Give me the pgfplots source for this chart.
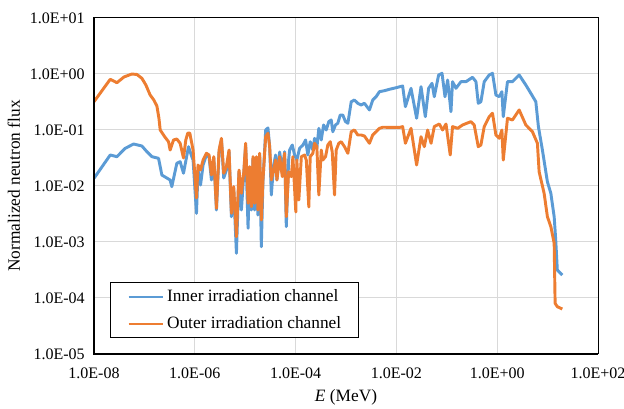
\documentclass[border=0pt]{standalone}
\usepackage{pgfplots}
\pgfplotsset{compat=1.18}
\usepackage{fontspec}
\setmainfont{Liberation Serif}
\definecolor{cblue}{HTML}{5B9BD5}
\definecolor{corange}{HTML}{ED7D31}
\definecolor{cgrid}{HTML}{D9D9D9}
\begin{document}
\begin{tikzpicture}
\begin{axis}[
 name=ax,
 scale only axis, width=378pt, height=252pt,
 xmode=log, ymode=log,
 xmin=1e-8, xmax=100, ymin=1e-5, ymax=10,
 xtick={1e-8,1e-6,1e-4,1e-2,1,100},
 xticklabels={1.0E-08,1.0E-06,1.0E-04,1.0E-02,1.0E+00,1.0E+02},
 ytick={1e-5,1e-4,1e-3,1e-2,1e-1,1,10},
 yticklabels={1.0E-05,1.0E-04,1.0E-03,1.0E-02,1.0E-01,1.0E+00,1.0E+01},
 xminorticks=false, yminorticks=false,
 major tick length=0pt,
 grid=major, major grid style={cgrid, line width=0.75pt},
 axis line style={black, line width=0.75pt},
 tick label style={font=\fontsize{12}{14}\selectfont},
 xticklabel style={anchor=center, inner sep=0pt, yshift=-14.25pt},
 yticklabel style={anchor=east, inner sep=0pt, xshift=-6.75pt},
 every axis x label/.style={at={(axis description cs:0.5,-0.128)}, anchor=center, font=\fontsize{13}{15}\selectfont},
 every axis y label/.style={at={(axis description cs:-0.159,0.5)}, rotate=90, anchor=center, font=\fontsize{13}{15}\selectfont},
 xlabel={\textit{E} (MeV)},
 ylabel={Normalized neutron flux},
 legend style={at={(axis description cs:0.0317,0.0467)}, anchor=south west, draw=black, line width=0.75pt,
   font=\fontsize{13}{15}\selectfont, inner xsep=13pt, inner ysep=4.9pt, row sep=9.5pt, column sep=2.5pt,
   nodes={inner sep=0pt, text height=9pt, text depth=2pt}},
 legend cell align=left,
 legend image code/.code={\draw[#1, line width=1.4pt] (0pt,0pt) -- (25.5pt,0pt);},
 every axis plot/.append style={line width=2.2pt, line join=round, no markers},
]
\addplot[cblue] coordinates {
(1.00e-8,0.0137) (2.10e-8,0.0358) (2.85e-8,0.0334) (4.17e-8,0.0471) (6.11e-8,0.0562)
(8.92e-8,0.0518) (1.12e-7,0.0410) (1.41e-7,0.0334) (1.91e-7,0.0312) (2.22e-7,0.0157)
(3.24e-7,0.0128) (3.50e-7,0.00972) (4.40e-7,0.0254) (5.12e-7,0.0272) (5.97e-7,0.0169)
(7.50e-7,0.0503) (8.72e-7,0.0334) (9.25e-7,0.0291) (1.08e-6,0.00325) (1.16e-6,0.0193)
(1.30e-6,0.0104) (1.46e-6,0.0237) (1.70e-6,0.0358) (1.92e-6,0.0330) (2.14e-6,0.0128)
(2.38e-6,0.0316) (2.69e-6,0.00373) (3.03e-6,0.0405) (3.38e-6,0.0663) (3.75e-6,0.0139)
(4.24e-6,0.0193) (4.78e-6,0.0405) (5.33e-6,0.00283) (5.92e-6,0.00848) (6.70e-6,0.000628)
(7.54e-6,0.0178) (8.41e-6,0.00373) (9.34e-6,0.0151) (1.02e-5,0.0540) (1.14e-5,0.00176)
(1.23e-5,0.0210) (1.33e-5,0.00373) (1.43e-5,0.0316) (1.54e-5,0.00373) (1.67e-5,0.0316)
(1.79e-5,0.00303) (1.94e-5,0.0358) (2.09e-5,0.000824) (2.25e-5,0.0118) (2.55e-5,0.100)
(2.83e-5,0.109) (3.06e-5,0.0503) (3.30e-5,0.00691) (3.67e-5,0.0237) (4.02e-5,0.0358)
(4.26e-5,0.0128) (4.82e-5,0.0405) (5.45e-5,0.0193) (6.06e-5,0.0410) (6.54e-5,0.00188)
(7.27e-5,0.0291) (7.61e-5,0.0439) (8.60e-5,0.0540) (9.55e-5,0.0358) (1.06e-4,0.0291)
(1.20e-4,0.0471) (1.40e-4,0.0540) (1.58e-4,0.0663) (1.75e-4,0.0358) (1.95e-4,0.0618)
(2.20e-4,0.0439) (2.38e-4,0.0711) (2.64e-4,0.0471) (2.89e-4,0.107) (3.23e-4,0.0663)
(3.59e-4,0.123) (4.05e-4,0.100) (4.56e-4,0.141) (5.09e-4,0.151) (5.48e-4,0.0932)
(6.19e-4,0.123) (6.88e-4,0.132) (7.68e-4,0.185) (8.64e-4,0.185) (9.77e-4,0.141)
(1.09e-3,0.132) (1.27e-3,0.320) (1.47e-3,0.343) (1.71e-3,0.300) (2.00e-3,0.280)
(2.32e-3,0.300) (2.92e-3,0.228) (3.39e-3,0.343) (3.96e-3,0.393) (4.61e-3,0.483)
(5.79e-3,0.503) (7.27e-3,0.533) (9.86e-3,0.569) (1.33e-2,0.611) (1.51e-2,0.261)
(1.95e-2,0.555) (2.52e-2,0.162) (3.08e-2,0.593) (3.75e-2,0.173) (4.36e-2,0.555)
(5.09e-2,0.682) (5.65e-2,0.393) (6.88e-2,0.960) (8.04e-2,1.03) (9.21e-2,0.393)
(1.04e-1,0.781) (1.21e-1,0.212) (1.30e-1,0.729) (1.52e-1,0.555) (1.91e-1,0.729)
(2.40e-1,0.729) (3.24e-1,0.873) (3.79e-1,0.729) (4.21e-1,0.300) (4.75e-1,0.320)
(5.53e-1,0.729) (6.94e-1,0.960) (8.07e-1,1.03) (9.43e-1,0.422) (1.10,0.393)
(1.24,0.483) (1.32,0.173) (1.60,0.729) (2.01,0.729) (2.73,0.960)
(3.70,0.636) (4.65,0.452) (5.84,0.320) (6.57,0.115) (7.89,0.0439)
(9.91,0.0119) (11.6,0.00741) (13.5,0.00283) (14.5,0.00109) (15.6,0.000316)
(19.6,0.000257)
};
\addlegendentry{Inner irradiation channel}
\addplot[corange] coordinates {
(1.00e-8,0.320) (2.10e-8,0.804) (2.85e-8,0.699) (3.93e-8,0.884) (5.65e-8,1.00)
(7.10e-8,0.980) (8.92e-8,0.838) (1.07e-7,0.636) (1.30e-7,0.422) (1.54e-7,0.343)
(1.77e-7,0.268) (1.94e-7,0.164) (2.06e-7,0.100) (2.55e-7,0.0750) (3.01e-7,0.0618)
(3.24e-7,0.0439) (3.79e-7,0.0663) (4.40e-7,0.0691) (5.12e-7,0.0579) (5.97e-7,0.0316)
(6.63e-7,0.0663) (7.27e-7,0.0884) (7.96e-7,0.0878) (9.25e-7,0.0439) (1.08e-6,0.00611)
(1.16e-6,0.0237) (1.30e-6,0.0193) (1.46e-6,0.0291) (1.70e-6,0.0384) (1.92e-6,0.0358)
(2.14e-6,0.0157) (2.38e-6,0.0334) (2.69e-6,0.00400) (3.03e-6,0.0439) (3.38e-6,0.0711)
(3.75e-6,0.0169) (4.24e-6,0.0221) (4.78e-6,0.0439) (5.33e-6,0.00325) (5.92e-6,0.00972)
(6.70e-6,0.00124) (7.54e-6,0.0193) (8.41e-6,0.00741) (9.34e-6,0.0169) (1.02e-5,0.0579)
(1.14e-5,0.00491) (1.23e-5,0.0221) (1.33e-5,0.00427) (1.43e-5,0.0334) (1.54e-5,0.00491)
(1.67e-5,0.0334) (1.79e-5,0.00373) (1.94e-5,0.0384) (2.09e-5,0.00247) (2.25e-5,0.0128)
(2.55e-5,0.0759) (2.83e-5,0.0873) (3.06e-5,0.0503) (3.30e-5,0.0128) (3.67e-5,0.0193)
(4.02e-5,0.0291) (4.26e-5,0.0128) (4.82e-5,0.0334) (5.45e-5,0.0147) (6.06e-5,0.0384)
(6.54e-5,0.00283) (7.27e-5,0.0180) (8.22e-5,0.0147) (8.84e-5,0.0334) (1.01e-4,0.00343)
(1.06e-4,0.0291) (1.16e-4,0.00562) (1.30e-4,0.0334) (1.51e-4,0.0358) (1.63e-4,0.0291)
(1.83e-4,0.00422) (1.95e-4,0.0334) (2.20e-4,0.0384) (2.38e-4,0.0579) (2.64e-4,0.0503)
(2.89e-4,0.00691) (3.23e-4,0.0439) (3.47e-4,0.0291) (3.93e-4,0.0334) (4.36e-4,0.0540)
(4.87e-4,0.0618) (5.33e-4,0.0410) (5.92e-4,0.00691) (6.39e-4,0.0439) (7.20e-4,0.0579)
(8.04e-4,0.0618) (9.34e-4,0.0503) (1.09e-3,0.0384) (1.27e-3,0.0932) (1.47e-3,0.100)
(1.71e-3,0.0814) (2.00e-3,0.0814) (2.32e-3,0.0781) (2.92e-3,0.0579) (3.39e-3,0.0814)
(3.96e-3,0.0932) (4.61e-3,0.107) (5.35e-3,0.112) (1.15e-2,0.111) (1.33e-2,0.115)
(1.51e-2,0.0579) (1.95e-2,0.107) (2.52e-2,0.0237) (3.08e-2,0.0759) (3.58e-2,0.0503)
(4.17e-2,0.100) (4.87e-2,0.0579) (5.65e-2,0.115) (7.10e-2,0.128) (8.26e-2,0.100)
(9.64e-2,0.128) (1.17e-1,0.0358) (1.30e-1,0.115) (1.64e-1,0.107) (2.06e-1,0.123)
(3.01e-1,0.141) (3.50e-1,0.123) (4.21e-1,0.0503) (4.75e-1,0.0540) (5.53e-1,0.115)
(6.94e-1,0.173) (8.07e-1,0.199) (9.43e-1,0.0814) (1.10,0.0711) (1.24,0.100)
(1.32,0.0291) (1.60,0.162) (2.01,0.151) (2.73,0.228) (3.70,0.123)
(5.00,0.0932) (6.28,0.0579) (6.79,0.0180) (8.53,0.00741) (9.91,0.00283)
(11.6,0.00188) (13.5,0.000948) (14.1,0.0000804) (15.6,0.0000699) (19.6,0.0000636)
};
\addlegendentry{Outer irradiation channel}
\end{axis}
\draw[black, line width=1.5pt] (ax.north west) -- (ax.south west) -- (ax.south east);
\pgfresetboundingbox
\path[use as bounding box] (-70.5pt,-41.25pt) rectangle (397.5pt,265.5pt);
\end{tikzpicture}
\end{document}
